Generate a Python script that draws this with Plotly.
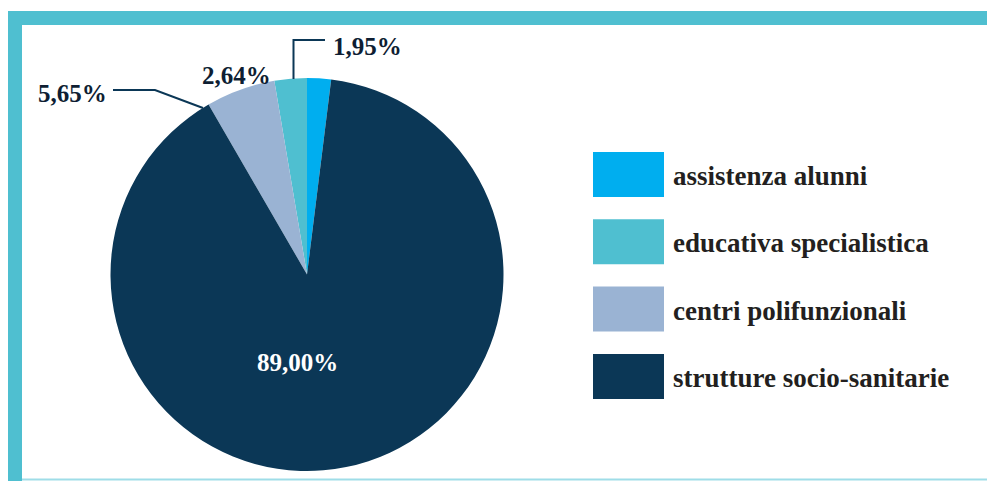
import plotly.graph_objects as go

# data (order = counter-clockwise from 12 o'clock, same as legend)
CATEGORIES = ["assistenza alunni", "educativa specialistica",
              "centri polifunzionali", "strutture socio-sanitarie"]
SHARES = [1.95, 2.64, 5.65, 89.00]
COLORS = ["#00AEEF", "#4FBFD0", "#9AB3D3", "#0B3756"]

W, H = 987, 481
FONT = "Liberation Serif"
TEAL = "#4FBFD0"
INK = "#231F20"
NAVY_TXT = "#0E1E33"
LINE = "#0B3756"


def px(x, y):
    """screen pixel -> paper coords"""
    return x / W, 1 - y / H


def pct(v):
    return f"{v:.2f}".replace(".", ",") + "%"


fig = go.Figure(go.Pie(
    labels=CATEGORIES, values=SHARES, sort=False, direction="counterclockwise",
    rotation=0, marker={"colors": COLORS, "line": {"width": 0}},
    textinfo="none", hoverinfo="label+percent", showlegend=False,
    domain={"x": [px(110.5, 0)[0], px(503.5, 0)[0]], "y": [px(0, 471)[1], px(0, 78)[1]]},
))

shapes = []
# frame: thick teal top and left bands, thin light line at the bottom
shapes.append(dict(type="rect", xref="paper", yref="paper", x0=px(8, 0)[0], x1=1,
                   y0=px(0, 25)[1], y1=px(0, 11)[1], fillcolor=TEAL, line_width=0))
shapes.append(dict(type="rect", xref="paper", yref="paper", x0=px(8, 0)[0], x1=px(22, 0)[0],
                   y0=0, y1=px(0, 11)[1], fillcolor=TEAL, line_width=0))
shapes.append(dict(type="line", xref="paper", yref="paper", x0=px(22, 0)[0], x1=1,
                   y0=px(0, 479.5)[1], y1=px(0, 479.5)[1],
                   line={"color": "#9FDDE8", "width": 2}))


def path(points):
    d = ""
    for i, (x, y) in enumerate(points):
        xp, yp = px(x, y)
        d += ("M" if i == 0 else "L") + f"{xp},{yp}"
    return d


# leader lines
shapes.append(dict(type="path", xref="paper", yref="paper",
                   path=path([(113, 90), (155, 90), (203, 108)]),
                   line={"color": LINE, "width": 2}))
shapes.append(dict(type="path", xref="paper", yref="paper",
                   path=path([(325, 40), (293.5, 40), (293.5, 79)]),
                   line={"color": LINE, "width": 2}))

annotations = []
# slice labels
label_pos = [(367, 46, NAVY_TXT), (236, 75, NAVY_TXT), (72, 93.5, NAVY_TXT), (297.5, 362, "white")]
for v, (x, y, c) in zip(SHARES, label_pos):
    xp, yp = px(x, y)
    annotations.append(dict(x=xp, y=yp, xref="paper", yref="paper", text=f"<b>{pct(v)}</b>",
                            showarrow=False, xanchor="center", yanchor="middle",
                            font={"family": FONT, "size": 25, "color": c}))

# legend: big squares + labels
for i, (name, col) in enumerate(zip(CATEGORIES, COLORS)):
    top = 152 + i * 67.3
    x0, y0 = px(593, top + 45)
    x1, y1 = px(664, top)
    shapes.append(dict(type="rect", xref="paper", yref="paper", x0=x0, x1=x1,
                       y0=y0, y1=y1, fillcolor=col, line_width=0))
    tx, ty = px(671, top + 24)
    annotations.append(dict(x=tx, y=ty, xref="paper", yref="paper", text=f"<b>{name}</b>",
                            showarrow=False, xanchor="left", yanchor="middle",
                            font={"family": FONT, "size": 27, "color": INK}))

fig.update_layout(
    width=W, height=H, margin={"l": 0, "r": 0, "t": 0, "b": 0},
    paper_bgcolor="white", plot_bgcolor="white",
    shapes=shapes, annotations=annotations,
)

# drop the browser's default 8px body margin so the figure fills the window
fig.write_html("out.html", config={"displayModeBar": False},
               post_script="document.body.style.margin = '0';")
